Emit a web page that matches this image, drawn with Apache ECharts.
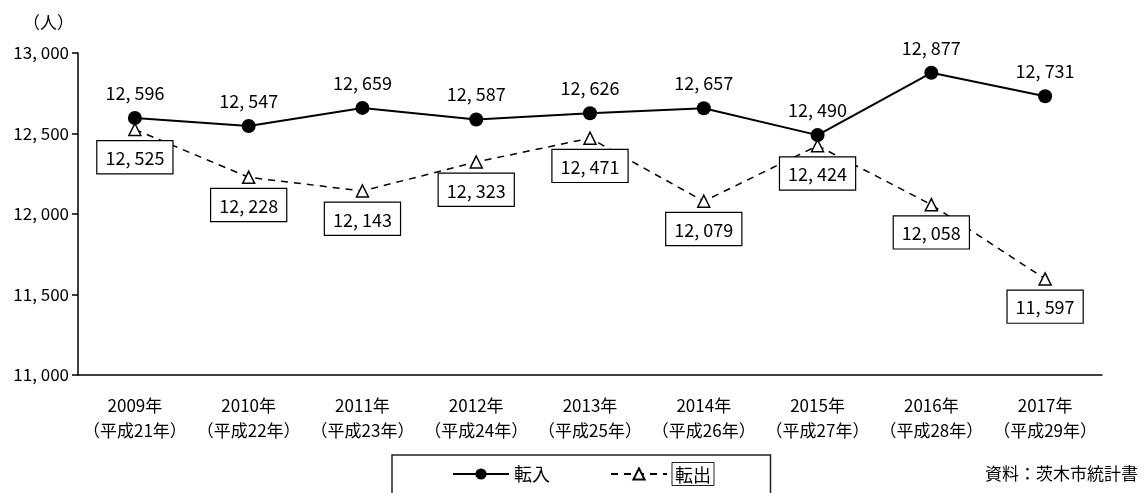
<!DOCTYPE html>
<html>
<head>
<meta charset="utf-8">
<script src="https://cdn.jsdelivr.net/npm/echarts@6/dist/echarts.min.js"></script>
<style>
  html, body { margin: 0; padding: 0; background: #fff; }
  #chart { width: 1147px; height: 493px; }
</style>
</head>
<body>
<div id="chart"></div>
<script>
const years = ['2009年\n（平成21年）', '2010年\n（平成22年）', '2011年\n（平成23年）', '2012年\n（平成24年）',
    '2013年\n（平成25年）', '2014年\n（平成26年）', '2015年\n（平成27年）', '2016年\n（平成28年）', '2017年\n（平成29年）'];
const tennyu = [12596, 12547, 12659, 12587, 12626, 12657, 12490, 12877, 12731];
const tenshutsu = [12525, 12228, 12143, 12323, 12471, 12079, 12424, 12058, 11597];

const FONT = '"Noto Sans CJK JP", sans-serif';
// 12,596 -> "12, 596" like the original
function fmt(v) {
    return Number(v).toLocaleString('en-US').replace(',', ', ');
}

let chart = echarts.init(document.getElementById('chart'));
chart.setOption({
    animation: false,
    backgroundColor: '#fff',
    textStyle: { fontFamily: FONT, color: '#000' },
    title: {
        text: '資料：茨木市統計書',
        right: 4, bottom: 6,
        textStyle: { fontFamily: FONT, fontSize: 17, fontWeight: 'normal', color: '#000' }
    },
    grid: { left: 78, right: 45, top: 53, bottom: 118 },
    legend: {
        left: 392, top: 455,
        padding: [7, 56, 40, 60],
        borderColor: '#222', borderWidth: 1.5,
        itemWidth: 56, itemHeight: 14, itemGap: 60,
        textStyle: {
            fontFamily: FONT, fontSize: 18, color: '#000',
            rich: { b: { fontFamily: FONT, fontSize: 18, borderColor: '#222', borderWidth: 1, padding: [4, 3, 1, 3] } }
        },
        formatter: name => name == '転出' ? '{b|' + name + '}' : name,
        data: ['転入', '転出']
    },
    xAxis: {
        type: 'category',
        data: years,
        boundaryGap: true,
        axisLine: { lineStyle: { color: '#000', width: 1.5 } },
        axisTick: { inside: true, length: 6, lineStyle: { color: '#000', width: 1.5 } },
        axisLabel: { interval: 0, fontFamily: FONT, fontSize: 17, color: '#000', lineHeight: 25, margin: 18 }
    },
    yAxis: {
        type: 'value',
        min: 11000, max: 13000, interval: 500,
        name: '（人）',
        nameGap: 22,
        nameTextStyle: { fontFamily: FONT, fontSize: 17, color: '#000', align: 'right', padding: [0, 4, 0, 0] },
        splitLine: { show: false },
        axisLine: { show: true, lineStyle: { color: '#000', width: 1.5 } },
        axisTick: { show: true, length: 6, lineStyle: { color: '#000', width: 1.5 } },
        axisLabel: { fontFamily: FONT, fontSize: 17, color: '#000', margin: 9, formatter: fmt }
    },
    series: [
        {
            name: '転入',
            type: 'line',
            data: tennyu,
            symbol: 'circle',
            symbolSize: 14,
            itemStyle: { color: '#000' },
            lineStyle: { color: '#000', width: 2 },
            label: {
                show: true, position: 'top', distance: 9,
                fontFamily: FONT, fontSize: 18, color: '#000',
                formatter: p => fmt(p.value)
            },
            z: 3
        },
        {
            name: '転出',
            type: 'line',
            data: tenshutsu,
            symbol: 'triangle',
            symbolSize: 12,
            itemStyle: { color: '#fff', borderColor: '#000', borderWidth: 1.5 },
            lineStyle: { color: '#000', width: 1.5, type: [7, 6] },
            label: {
                show: true, position: 'bottom', distance: 5,
                fontFamily: FONT, fontSize: 18, lineHeight: 20, color: '#000',
                backgroundColor: '#fff', borderColor: '#000', borderWidth: 1.2,
                padding: [7, 8, 5, 8],
                formatter: p => fmt(p.value)
            },
            z: 2
        }
    ]
});
</script>
</body>
</html>
